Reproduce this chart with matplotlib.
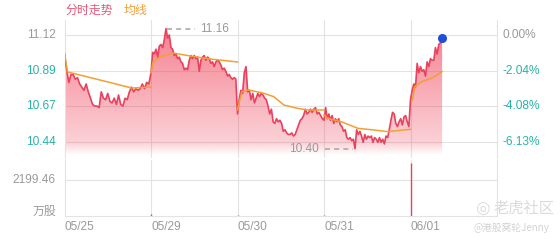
import numpy as np
import matplotlib
matplotlib.use("Agg")
from matplotlib import pyplot as plt

###############################
### data
dates = ["05/25", "05/29", "05/30", "05/31", "06/01"]

day1 = [11.00, 10.90, 10.82, 10.87, 10.87, 10.84, 10.85, 10.81, 10.79, 10.77,
        10.81, 10.76, 10.72, 10.68, 10.67, 10.67, 10.66, 10.76, 10.72, 10.71,
        10.75, 10.70, 10.69, 10.72, 10.68, 10.74, 10.68, 10.67, 10.72, 10.71,
        10.76, 10.79, 10.76, 10.78, 10.77, 10.78, 10.81, 10.78, 10.82, 10.81]
day2 = [10.88, 11.01, 11.00, 11.03, 10.98, 11.05, 11.06, 11.04, 11.09, 11.16,
        11.10, 11.12, 11.04, 11.03, 10.99, 11.00, 10.97, 10.98, 10.95, 10.94,
        10.90, 10.91, 10.90, 10.96, 10.99, 10.97, 10.99, 10.97, 10.98, 10.89,
        10.96, 10.98, 10.99, 10.96, 10.98, 10.97, 10.94, 10.95, 10.92, 10.95,
        10.96, 10.95, 10.93, 10.90, 10.91, 10.89, 10.86, 10.87, 10.85, 10.84,
        10.85, 10.84]
day3 = [10.62, 10.71, 10.77, 10.75, 10.88, 10.92, 10.76, 10.77, 10.71, 10.75,
        10.69, 10.72, 10.75, 10.73, 10.75, 10.74, 10.72, 10.71, 10.67, 10.62,
        10.65, 10.57, 10.56, 10.59, 10.57, 10.58, 10.56, 10.51, 10.52, 10.50,
        10.49, 10.49, 10.50, 10.48, 10.49, 10.52, 10.55, 10.58, 10.59, 10.61,
        10.65, 10.62, 10.63, 10.65, 10.63, 10.65, 10.66, 10.62, 10.63, 10.61,
        10.59]
day4 = [10.58, 10.66, 10.59, 10.62, 10.58, 10.61, 10.56, 10.59, 10.57, 10.59,
        10.55, 10.54, 10.51, 10.52, 10.47, 10.46, 10.47, 10.45, 10.46, 10.40,
        10.52, 10.49, 10.51, 10.48, 10.44, 10.49, 10.46, 10.48, 10.47, 10.48,
        10.44, 10.47, 10.46, 10.44, 10.47, 10.44, 10.46, 10.43, 10.48, 10.47,
        10.52, 10.58, 10.63, 10.62, 10.56, 10.54, 10.57, 10.59, 10.55, 10.60,
        10.61, 10.57, 10.54]
day5 = [10.71, 10.77, 10.81, 10.79, 10.94, 10.88, 10.92, 10.89, 10.90, 10.86,
        10.95, 10.92, 10.97, 10.96, 10.96, 11.04, 11.00, 11.06, 11.07, 11.10]
days = [day1, day2, day3, day4, day5]
samples_per_day = 52  # for the unfinished last day

# average line: (fraction of day, price)
avg_t = [[0, 0.035, 0.41, 0.78, 1.0],
         [0, 0.023, 0.105, 0.256, 0.453, 0.686, 1.0],
         [0, 0.05, 0.128, 0.305, 0.42, 0.535, 0.69, 0.81, 1.0],
         [0, 0.043, 0.198, 0.392, 0.585, 0.74, 1.0],
         [0.023, 0.05, 0.128, 0.244, 0.365]]
avg_p = [[11.006, 10.886, 10.835, 10.784, 10.791],
         [10.879, 10.949, 10.981, 11.006, 10.987, 10.968, 10.949],
         [10.645, 10.761, 10.772, 10.751, 10.729, 10.677, 10.656, 10.645, 10.645],
         [10.613, 10.592, 10.571, 10.529, 10.518, 10.508, 10.523],
         [10.708, 10.793, 10.824, 10.846, 10.888]]

vol_open = [20, 150, 40, 90, 3240]   # 万股, at each day's open

price_ticks = [11.12, 10.89, 10.67, 10.44]
pct_labels = ["0.00%", "-2.04%", "-4.08%", "-6.13%"]
vol_tick = 2199.46
high_label, low_label = "11.16", "10.40"

###############################
### colours
RED = "#e8425e"
ORANGE = "#f2a033"
GRID = "#e3e3e3"
GRAY = "#9a9a9a"
TEAL = "#2ab3a6"
NUM_FONT = ["Liberation Sans", "Noto Sans CJK SC"]
CJK_FONT = ["Noto Sans CJK SC", "DejaVu Sans"]

x_all, p_all = [], []
for d, vals in enumerate(days):
    n = len(vals) if d < 4 else samples_per_day
    for i, v in enumerate(vals):
        x_all.append(d + i / n)
        p_all.append(v)
x_all = np.array(x_all)
p_all = np.array(p_all)

fig = plt.figure(figsize=(5.6, 2.4), dpi=100)
L, W = 64.5 / 560, 432.5 / 560
ax = fig.add_axes([L, 1 - 158 / 240, W, 138 / 240])
axv = fig.add_axes([L, 1 - 216 / 240, W, 56 / 240])

ylo, yhi = 10.341, 11.215
ax.set_xlim(0, 5)
ax.set_ylim(ylo, yhi)

# gradient fill under the price line
poly = ax.fill_between(x_all, p_all, ylo, color="none", lw=0)
rows = np.linspace(0, 1, 256)
grad = np.zeros((256, 1, 4))
grad[:, 0, 0] = 240 / 255
grad[:, 0, 1] = 62 / 255
grad[:, 0, 2] = 86 / 255
grad[:, 0, 3] = np.interp(rows, [0.02, 0.11, 1.0], [0.0, 0.24, 0.68])
img = ax.imshow(grad, extent=[0, 5, ylo, yhi], aspect="auto", origin="lower", zorder=1)
img.set_clip_path(poly.get_paths()[0], transform=ax.transData)

for t in price_ticks:
    ax.axhline(t, color=GRID, lw=0.8, zorder=0)
for d in range(1, 5):
    ax.axvline(d, color=GRID, lw=0.8, zorder=0)
    axv.axvline(d, color=GRID, lw=0.8, zorder=0)

ax.plot(x_all, p_all, color=RED, lw=1.2, zorder=3)
for d in range(5):
    ax.plot(d + np.array(avg_t[d]), avg_p[d], color=ORANGE, lw=1.1, zorder=4)
ax.plot(x_all[-1], p_all[-1], "o", color="#1f4fd8", ms=5.5, zorder=5)

# max / min markers
i_hi, i_lo = np.argmax(p_all), np.argmin(p_all)
ax.plot([x_all[i_hi] + 0.01, x_all[i_hi] + 0.33], [p_all[i_hi]] * 2, color="#aaaaaa",
        lw=1.2, dashes=(3, 2.5), zorder=2)
ax.text(x_all[i_hi] + 0.39, p_all[i_hi], high_label, color=GRAY, fontsize=8.6,
        family=NUM_FONT, va="center", ha="left")
ax.plot([x_all[i_lo] - 0.35, x_all[i_lo] - 0.02], [p_all[i_lo]] * 2, color="#aaaaaa",
        lw=1.2, dashes=(3, 2.5), zorder=2)
ax.text(x_all[i_lo] - 0.42, p_all[i_lo], low_label, color=GRAY, fontsize=8.6,
        family=NUM_FONT, va="center", ha="right")

ax.set_xticks([])
ax.set_yticks([])
for s in ["top", "bottom"]:
    ax.spines[s].set_visible(False)
for s in ["left", "right"]:
    ax.spines[s].set_color(GRID)
    ax.spines[s].set_linewidth(0.8)

for k, t in enumerate(price_ticks):
    c = GRAY if k == 0 else TEAL
    ax.text(-0.02, t, f"{t:.2f}", transform=ax.get_yaxis_transform(), ha="right",
            va="center", color=c, fontsize=8.6, family=NUM_FONT)
    ax.text(1.012, t, pct_labels[k], transform=ax.get_yaxis_transform(), ha="left",
            va="center", color=c, fontsize=8.6, family=NUM_FONT)

# volume panel
axv.set_xlim(0, 5)
axv.set_ylim(0, vol_tick * 56 / 36)
axv.vlines(np.arange(5) + 0.004, 0, vol_open, color=RED, lw=1.0)
axv.axhline(vol_tick, color=GRID, lw=0.8, zorder=0)
axv.set_xticks([])
axv.set_yticks([])
axv.spines["top"].set_visible(False)
for s in ["left", "right", "bottom"]:
    axv.spines[s].set_color(GRID)
    axv.spines[s].set_linewidth(0.8)
axv.text(-0.02, vol_tick, f"{vol_tick:.2f}", transform=axv.get_yaxis_transform(),
         ha="right", va="center", color=GRAY, fontsize=8.6, family=NUM_FONT)
axv.text(-0.02, 0.09, "万股", transform=axv.transAxes, ha="right", va="center",
         color=GRAY, fontsize=8.6, family=CJK_FONT)
for d, lab in enumerate(dates):
    axv.text(d, -0.2, lab, transform=axv.get_xaxis_transform(), ha="left", va="center",
             color=GRAY, fontsize=8.6, family=NUM_FONT)

# header
fig.text(65 / 560, 1 - 10 / 240, "分时走势", color="#e6577a", fontsize=8.6,
         family=CJK_FONT, va="center", ha="left")
fig.text(124 / 560, 1 - 10 / 240, "均线", color=ORANGE, fontsize=8.6,
         family=CJK_FONT, va="center", ha="left")

# watermark
fig.text(482 / 560, 1 - 208 / 240, "◎", color="#dcdcdc", fontsize=12,
         family=["DejaVu Sans"], va="center", ha="center")
fig.text(493 / 560, 1 - 208 / 240, "老虎社区", color="#dadada", fontsize=11,
         family=CJK_FONT, va="center", ha="left")
fig.text(549 / 560, 1 - 228 / 240, "@港股窝轮Jenny", color="#d2d2d2", fontsize=7,
         family=CJK_FONT, va="center", ha="right")

fig.savefig("out.png", dpi=100, facecolor="white")
